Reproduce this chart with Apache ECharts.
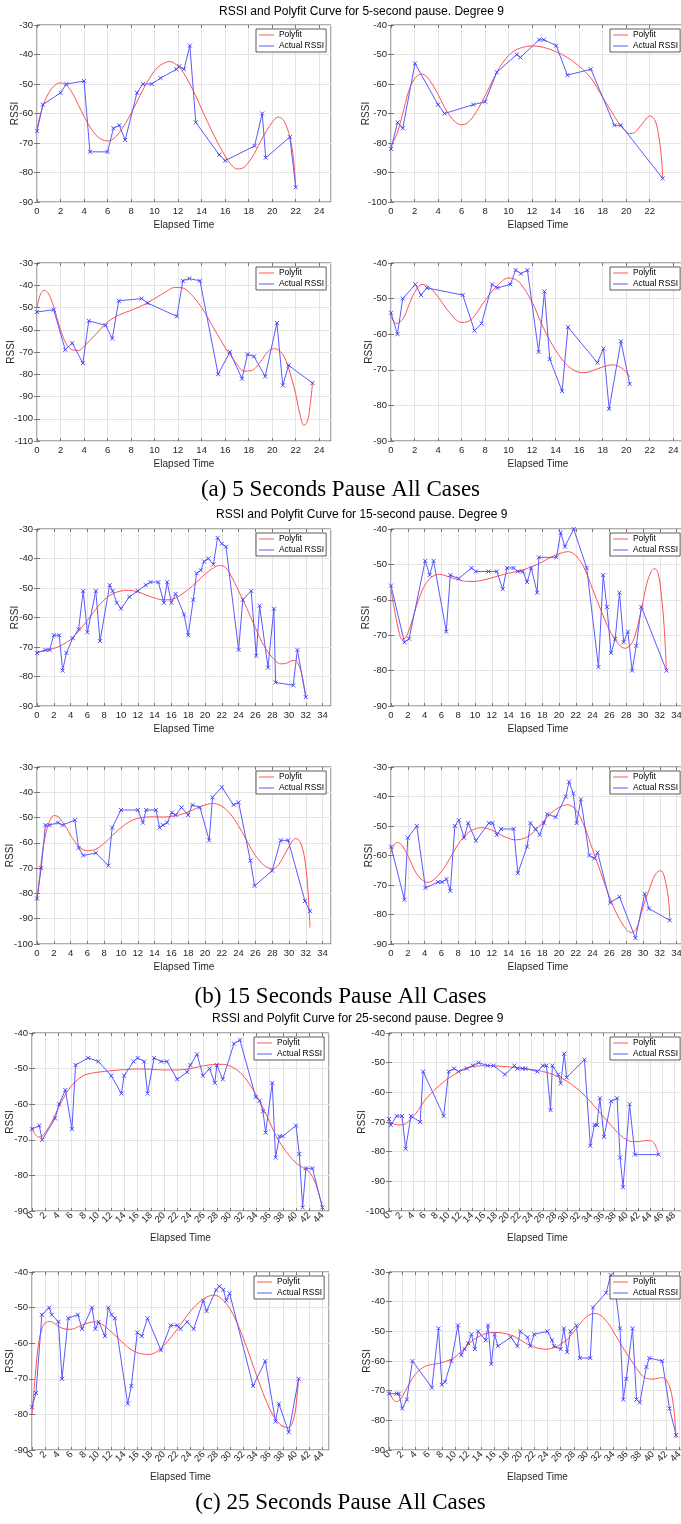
<!DOCTYPE html>
<html>
<head>
<meta charset="utf-8">
<title>RSSI and Polyfit Curves</title>
<script src="https://cdn.jsdelivr.net/npm/echarts@6/dist/echarts.min.js"></script>
<style>
  html, body { margin: 0; padding: 0; background: #fff; }
  #chart { width: 681px; height: 1524px; }
</style>
</head>
<body>
<div id="chart"></div>
<script>
// ---- Figure text ----
const groupTitles = [
  'RSSI and Polyfit Curve for 5-second pause. Degree 9',
  'RSSI and Polyfit Curve for 15-second pause. Degree 9',
  'RSSI and Polyfit Curve for 25-second pause. Degree 9'
];
const groupCaptions = [
  '(a) 5 Seconds Pause All Cases',
  '(b) 15 Seconds Pause All Cases',
  '(c) 25 Seconds Pause All Cases'
];
const seriesNames = ['Polyfit', 'Actual RSSI'];
const xAxisTitle = 'Elapsed Time';
const yAxisTitle = 'RSSI';

// ---- Tick sets for elapsed time ----
const ticksTo22 = [0, 2, 4, 6, 8, 10, 12, 14, 16, 18, 20, 22];
const ticksTo24 = [0, 2, 4, 6, 8, 10, 12, 14, 16, 18, 20, 22, 24];
const ticksTo34 = [0, 2, 4, 6, 8, 10, 12, 14, 16, 18, 20, 22, 24, 26, 28, 30, 32, 34];
const ticksTo44 = [0, 2, 4, 6, 8, 10, 12, 14, 16, 18, 20, 22, 24, 26, 28, 30, 32, 34, 36, 38, 40, 42, 44];
const ticksTo48 = [0, 2, 4, 6, 8, 10, 12, 14, 16, 18, 20, 22, 24, 26, 28, 30, 32, 34, 36, 38, 40, 42, 44, 46, 48];

// ---- 5-second pause ----
const p5c1Actual = [[0,-66],[0.5,-57],[2,-53],[2.5,-50],[4,-49],[4.5,-73],[6,-73],[6.5,-65],[7,-64],[7.5,-69],[8.5,-53],[9,-50],[9.75,-50],[10.5,-48],[11.85,-45],[12.1,-44],[12.5,-45],[13,-37],[13.5,-63],[15.5,-74],[16,-76],[18.5,-71],[19.15,-60],[19.45,-75],[21.5,-68],[22,-85]];
const p5c1Fit = [[0,-65],[0.5,-57.5],[1,-53],[1.5,-50.5],[2,-49.6],[2.5,-50.4],[3,-53],[3.5,-57],[4,-61],[4.5,-64.5],[5,-67.3],[5.5,-68.8],[6,-69.3],[6.5,-68.6],[7,-66.5],[7.5,-63.5],[8,-60],[8.5,-56],[9,-52],[9.5,-48.5],[10,-45.5],[10.5,-43.6],[11,-42.6],[11.3,-42.4],[12,-44],[12.5,-46.5],[13,-50],[13.5,-54],[14,-58.5],[15,-67],[16,-74.5],[16.5,-77.3],[17,-78.8],[17.5,-78.5],[18,-76.5],[18.5,-73.5],[19,-69.5],[19.5,-66],[20,-63],[20.5,-61.2],[21,-62.5],[21.5,-68],[21.8,-75],[22,-85]];

const p5c2Actual = [[0,-82],[0.56,-73],[1,-75],[2.04,-53],[4,-67],[4.55,-70],[7,-67],[8,-66],[9,-56],[10.7,-50],[11,-51],[12.6,-45],[13,-45],[14.05,-47],[15,-57],[17,-55],[19,-74],[19.55,-74],[23.1,-92]];
const p5c2Fit = [[0,-81],[0.5,-77],[1,-70],[1.5,-62.5],[2,-58.3],[2.6,-56.6],[3,-57.4],[3.5,-60],[4,-63.5],[4.5,-67.5],[5,-70.8],[5.5,-73],[6,-73.8],[6.5,-73.2],[7,-71],[7.5,-67.8],[8,-64],[8.5,-60],[9,-56],[9.5,-52.8],[10,-50.3],[10.5,-48.7],[11,-47.8],[12,-47.1],[13,-47.6],[14,-49],[15,-51],[16,-54],[17,-58],[18,-64.5],[19,-71],[19.5,-74],[20,-76.2],[20.3,-76.8],[20.7,-76.5],[21,-75.3],[21.5,-72.8],[22,-70.8],[22.4,-72],[22.7,-76],[23,-85],[23.1,-92]];

const p5c3Actual = [[0,-52],[1.42,-51],[2.4,-69],[3,-66],[3.9,-75],[4.4,-56],[5.84,-58],[6.4,-64],[6.95,-47],[8.9,-46],[9.4,-48],[11.9,-54],[12.4,-38],[12.95,-37],[13.86,-38],[15.4,-80],[16.4,-70],[17.43,-82],[17.9,-71],[18.45,-72],[19.4,-81],[20.4,-57],[20.9,-85],[21.4,-76],[23.43,-84]];
const p5c3Fit = [[0,-50],[0.3,-44],[0.6,-42.2],[1,-44],[1.5,-51],[2,-60],[2.5,-66.5],[3,-69],[3.5,-69.3],[4,-67.5],[5,-62],[6,-56.5],[7,-53.3],[8,-51.3],[9,-49],[10,-46],[11,-42.8],[11.7,-41],[12.3,-41.1],[13,-43.5],[14,-50],[15,-59],[16,-68],[17,-75.5],[17.6,-78.6],[18.2,-78.4],[19,-74.5],[19.6,-70],[20.1,-68.5],[20.5,-69],[21,-72],[21.5,-79],[22,-89],[22.4,-99],[22.7,-103],[23,-101],[23.2,-95],[23.43,-84]];

const p5c4Actual = [[0,-54],[0.55,-60],[1,-50],[2.07,-46],[2.55,-49],[3.05,-47],[6.1,-49],[7.1,-59],[7.7,-57],[8.6,-46],[9.05,-47],[10.15,-46],[10.6,-42],[11.05,-43],[11.6,-42],[12.55,-65],[13.05,-48],[13.5,-67],[14.55,-76],[15.05,-58],[17.55,-68],[18.07,-64],[18.55,-81],[19.55,-62],[20.3,-74]];
const p5c4Fit = [[0,-55],[0.45,-57],[1,-55.8],[1.5,-52],[2,-48.3],[2.65,-46],[3,-46.3],[3.5,-47.5],[4,-49.5],[5,-54],[6,-56.7],[6.5,-56.5],[7,-55.3],[8,-50.5],[9,-46.5],[10,-44.2],[10.5,-44.5],[11,-45.7],[12,-51],[13,-58.5],[14,-64.5],[15,-68.8],[16,-70.7],[16.5,-70.8],[17,-70.4],[18,-69.2],[18.9,-68.6],[19.5,-69.3],[20,-70.6],[20.3,-72]];

// ---- 15-second pause ----
const p15c1Actual = [[0,-72],[1,-71],[1.5,-71],[2,-66],[2.65,-66],[3.05,-78],[3.5,-72],[4.25,-67],[4.95,-64],[5.5,-51],[6,-65],[7,-51],[7.5,-68],[8.65,-49],[9,-51],[9.5,-55],[10,-57],[11,-53],[12,-51],[12.95,-49],[13.5,-48],[14.45,-48],[15.1,-55],[15.5,-48],[16,-55],[16.5,-52],[17.5,-59],[18,-66],[18.6,-54],[19,-45],[19.5,-44],[19.9,-41],[20.4,-40],[21,-42],[21.5,-33],[22,-35],[22.5,-36],[24,-71],[24.5,-54],[25.5,-51],[26.1,-73],[26.5,-56],[27.5,-77],[28.2,-57],[28.4,-82],[30.5,-83],[31,-71],[32,-87]];
const p15c1Fit = [[0,-71.8],[1,-71.2],[2,-70.5],[3,-69.3],[4,-67.5],[5,-64.5],[6,-61],[7,-57.2],[8,-54],[9,-52],[10,-51],[10.9,-50.8],[12,-51.3],[13,-52.4],[14,-53.4],[15,-54],[15.7,-54],[16.5,-53.4],[17,-52.6],[18,-50.5],[19,-48],[20,-45.3],[21,-43.2],[21.7,-42.4],[22.3,-42.7],[23,-45.3],[24,-51],[25,-57],[26,-63.5],[27,-69.5],[28,-73.5],[29,-75.7],[29.6,-75.6],[30.1,-74.9],[30.6,-74.5],[31,-75.2],[31.5,-79],[32,-87]];

const p15c2Actual = [[0,-56],[1.6,-72],[2.15,-71],[4.07,-49],[4.6,-53],[5.07,-49],[6.58,-69],[7.06,-53],[8.06,-54],[9.58,-51],[10.1,-52],[11.6,-52],[12.6,-52],[13.3,-57],[13.8,-51],[14.6,-51],[15.1,-52],[15.7,-52],[16.2,-55],[16.7,-51],[17.4,-58],[17.6,-48],[19.7,-48],[20.2,-41],[20.7,-45],[21.75,-40],[23.3,-51],[24.7,-79],[25.26,-53],[25.7,-62],[26.2,-75],[26.7,-71],[27.2,-58],[27.7,-72],[28.2,-69],[28.7,-80],[29.2,-73],[29.8,-62],[32.8,-80]];
const p15c2Fit = [[0,-57],[0.5,-64],[1,-69.5],[1.3,-71.2],[1.7,-70.8],[2,-69.5],[2.5,-66],[3,-62],[3.5,-58.6],[4,-56],[4.5,-54.3],[5,-53.3],[5.75,-52.8],[6.5,-53.2],[7,-53.6],[8,-54.3],[9,-54.8],[10,-54.8],[11,-54.4],[12,-53.8],[13,-53.1],[14,-52.5],[15,-52],[16,-51.3],[17,-50.4],[18,-49.3],[19,-48],[20,-47],[21.1,-46.4],[22,-47.5],[23,-51],[24,-57],[25,-63],[26,-68.5],[27,-72.3],[27.85,-73.7],[28.5,-72.8],[29,-70.5],[29.5,-66],[30,-60.5],[30.5,-55],[31,-52],[31.4,-51.2],[31.8,-52.5],[32.2,-59],[32.5,-67],[32.8,-80]];

const p15c3Actual = [[0,-82],[0.5,-70],[1,-53],[1.5,-53],[2.5,-52],[3.05,-53],[4.5,-51],[4.95,-62],[5.5,-65],[7,-64],[8.5,-69],[8.95,-54],[10,-47],[12,-47],[12.6,-52],[13,-47],[14.15,-47],[14.6,-54],[15,-53],[15.5,-52],[16.05,-48],[16.5,-49],[17.2,-46],[18,-49],[18.5,-45],[19.4,-46],[20.5,-59],[20.9,-42],[22,-38],[23.4,-45],[24,-44],[25.4,-67],[25.9,-77],[28,-71],[29,-59],[29.9,-59],[31.9,-83],[32.5,-87]];
const p15c3Fit = [[0,-83],[0.3,-74],[0.6,-65],[1,-57],[1.5,-51.5],[2,-49.2],[2.5,-49.6],[3,-51.5],[3.5,-54],[4,-57],[5,-61.5],[6,-63.1],[7,-62.5],[8,-60.2],[9,-57],[10,-54],[11,-51.6],[12,-50.3],[13,-49.8],[14,-49.7],[15,-49.8],[16,-49.5],[17,-48.9],[18,-47.8],[19,-46.3],[20,-45],[21,-44.4],[22,-45.5],[23,-48.5],[24,-53.3],[25,-59.3],[26,-65],[27,-68.8],[28,-70.2],[28.5,-69.6],[29,-67.5],[30,-61.5],[30.8,-58.3],[31.3,-59.5],[31.8,-65],[32.2,-76],[32.5,-93.5]];

const p15c4Actual = [[0,-57],[1.6,-75],[2,-54],[3.07,-50],[4.1,-71],[5.6,-69],[6.1,-69],[6.6,-68],[7.06,-72],[7.6,-50],[8.06,-48],[8.7,-54],[9.2,-49],[10.1,-55],[11.65,-49],[12.1,-49],[12.6,-53],[13.1,-51],[14.6,-51],[15.1,-66],[16.2,-57],[16.6,-49],[17.2,-51],[17.7,-53],[18.2,-49],[18.6,-46],[19.6,-47],[20.8,-40],[21.2,-35],[21.7,-39],[22.1,-49],[22.6,-41],[23.6,-60],[24.2,-61],[24.6,-59],[26.1,-76],[27.2,-74],[29.1,-88],[30.2,-73],[30.7,-78],[33.2,-82]];
const p15c4Fit = [[0,-59],[0.4,-56.3],[0.75,-55.6],[1.2,-56.2],[2,-60],[3,-66],[4,-68.9],[4.4,-69.1],[5,-68.4],[6,-65.5],[7,-61],[8,-56.2],[9,-52.7],[10,-51],[10.85,-50.6],[12,-51.4],[13,-52.9],[14,-54.2],[14.8,-54.7],[16,-54],[17,-52],[18,-49],[19,-45.8],[20,-43.7],[21,-42.8],[22,-44.5],[23,-50],[24,-58],[25,-66],[26,-74],[27,-80.5],[28,-85],[28.6,-86.1],[29.2,-85],[30,-77.5],[31,-69.5],[31.5,-66.3],[32.1,-65.1],[32.5,-66.8],[33,-74],[33.2,-82]];

// ---- 25-second pause ----
const p25c1Actual = [[0,-67],[1.1,-66],[1.55,-70],[3.5,-64],[4.1,-60],[5.05,-56],[6.05,-67],[6.6,-49],[8.5,-47],[10.05,-48],[12,-52],[13.55,-57],[13.95,-52],[15.4,-48],[16,-47],[17,-48],[17.5,-57],[18.5,-47],[19.55,-48],[20.45,-48],[22,-53],[23.5,-51],[24,-49],[25,-46],[25.9,-52],[26.9,-50],[27.7,-54],[28,-49],[28.9,-53],[30.6,-43],[31.5,-42],[33.9,-58],[34.5,-59],[35,-62],[35.4,-68],[36.4,-54],[36.9,-75],[37.5,-69],[38,-69],[40,-66],[40.5,-74],[41,-89],[41.5,-78],[42.5,-78],[44,-89]];
const p25c1Fit = [[0,-66.5],[0.5,-68.5],[1,-69.2],[1.5,-69],[2,-68],[3,-65],[4,-61],[5,-57.5],[6,-54.8],[7,-53],[8,-51.8],[9,-51.3],[10,-51],[12,-50.6],[14,-50.3],[16,-50.1],[18,-50.2],[20,-50.4],[22,-50.4],[24,-50],[26,-49.2],[28,-48.8],[29,-48.8],[30,-49.3],[31,-50.3],[32,-52],[33,-54.5],[34,-57.5],[35,-61],[36,-65],[37,-69],[38,-72],[39,-74.5],[40,-76.5],[41,-77.8],[42,-79],[43,-82.5],[44,-89]];

const p25c2Actual = [[0,-69],[0.3,-71],[1.3,-68],[2.2,-68],[2.8,-79],[3.7,-68],[5.25,-70],[5.75,-53],[9.2,-68],[10.05,-53],[10.95,-52],[11.7,-53],[13.1,-52],[14.1,-51],[15.1,-50],[16.6,-51],[17.6,-51],[19.5,-54],[21.1,-51],[21.6,-52],[22.5,-52],[23,-52],[25,-53],[25.9,-51],[26.5,-51],[27.2,-66],[27.5,-51],[28.5,-54],[28.9,-57],[29.5,-47],[29.9,-55],[32.9,-49],[33.9,-78],[34.6,-71],[35,-71],[35.5,-62],[36.2,-75],[37.4,-63],[38.4,-62],[38.9,-82],[39.4,-92],[40.5,-64],[41.4,-81],[45.4,-81]];
const p25c2Fit = [[0,-70],[1,-70.8],[2,-71],[3,-70.3],[4,-68.3],[5,-65.8],[6,-62.8],[7,-60.5],[8,-58.6],[9,-56.8],[10,-55.3],[11,-54],[12,-52.7],[13,-51.8],[14,-51.3],[15,-51.1],[16,-51],[18,-51.1],[20,-51.4],[22,-51.8],[24,-52.3],[26,-53],[28,-54.3],[30,-56.3],[32,-59.3],[34,-63.3],[36,-68],[38,-72.5],[39,-74.5],[40,-76],[41,-76.6],[42,-76.6],[43,-76.3],[44,-76.3],[44.6,-77],[45,-78.6],[45.4,-80.8]];

const p25c3Actual = [[0,-78],[0.6,-74],[1.5,-52],[2.6,-50],[3,-52],[4,-54],[4.55,-70],[5.5,-53],[6.95,-52],[7.6,-56],[9.1,-50],[9.6,-56],[10.1,-54],[11.05,-58],[11.55,-50],[12.05,-52],[12.55,-53],[14.5,-77],[15.05,-72],[15.95,-57],[16.65,-58],[17.5,-53],[19.55,-62],[21,-55],[22,-55],[22.5,-56],[23.5,-54],[24.5,-56],[25.95,-48],[26.45,-51],[27.9,-45],[28.4,-44],[29,-45],[29.45,-48],[29.95,-46],[33.5,-72],[35.35,-65],[36.9,-82],[37.4,-77],[38.9,-85],[40.4,-70]];
const p25c3Fit = [[0,-80],[0.5,-69],[1,-60],[1.5,-56],[2,-54.3],[2.8,-53.9],[3.5,-54.6],[4,-55.3],[5,-56],[5.9,-56.1],[7,-55.4],[8,-54.6],[9,-54.1],[9.6,-54],[10.5,-54.6],[11,-55.2],[12,-56.8],[13,-58.5],[14,-60.3],[15,-61.8],[16,-62.7],[17,-63.1],[17.7,-63.2],[18.5,-62.8],[19.5,-61.6],[20.5,-59.6],[21.5,-57.3],[22.5,-54.8],[23.5,-52.2],[24.5,-50],[25.5,-48.2],[26.5,-47],[27.6,-46.5],[28.5,-47.2],[29.5,-49],[30.5,-52],[31.5,-56.2],[32.5,-61],[33.5,-66.3],[34.5,-71.5],[35.5,-76.3],[36.5,-80.2],[37.5,-82.7],[38.3,-83.6],[38.8,-83.7],[39.3,-83],[39.8,-80],[40.1,-76],[40.4,-70]];

const p25c4Actual = [[0,-71],[1.15,-71],[1.5,-71],[2,-76],[2.7,-73],[3.55,-60],[6.5,-69],[7.5,-49],[8,-68],[8.5,-67],[9.45,-60],[10.45,-48],[10.95,-58],[11.45,-56],[12,-54],[12.5,-51],[13,-56],[13.5,-50],[14.65,-53],[15,-48],[15.5,-61],[16,-51],[16.5,-55],[18.45,-52],[19.45,-55],[19.9,-50],[21,-52],[21.4,-55],[22,-51],[24,-50],[24.7,-53],[25,-55],[26,-56],[26.5,-49],[27,-57],[27.5,-50],[28.4,-48],[28.9,-59],[30.5,-59],[30.9,-42],[32.9,-37],[33.6,-31],[34.4,-38],[35,-49],[35.5,-73],[35.95,-66],[36.9,-49],[37.5,-73],[38,-74],[39,-62],[39.45,-59],[41.4,-60],[42.5,-76],[43.5,-85]];
const p25c4Fit = [[0,-70],[0.5,-72.5],[1.1,-73.7],[1.7,-73],[2.5,-70],[3.5,-66],[4.5,-63.3],[5.7,-61.6],[7.5,-60.8],[9.2,-59.7],[10,-58.7],[11,-56.7],[12,-54.5],[12.7,-53],[13.7,-51.7],[14.7,-50.7],[15.6,-50.4],[16.5,-50.4],[17.5,-50.7],[18.5,-51.3],[19.6,-52.5],[20.8,-54.1],[21.8,-55.1],[22.8,-55.8],[23.8,-56],[24.6,-55.8],[25.3,-55.2],[26.1,-54.2],[26.9,-53],[27.6,-51.2],[28.4,-49],[29.1,-47],[29.9,-45.1],[30.6,-44.2],[31.2,-44],[31.7,-44.2],[32.2,-44.8],[32.8,-46.2],[33.4,-47.9],[34.1,-50.5],[34.9,-53.5],[35.7,-56.4],[36.5,-59.1],[37.5,-62.5],[38.1,-64.3],[38.7,-65.6],[39.3,-66],[40,-66.1],[40.6,-65.9],[41.3,-65.6],[41.7,-65.8],[42,-66.4],[42.4,-68],[42.8,-70.9],[43.2,-77],[43.5,-86]];

// ---- Panel layout (pixel boxes and axis ranges) ----
const panels = [
  { fit: p5c1Fit,  actual: p5c1Actual,  left: 37,  top: 25,   w: 294, h: 177, xMax: 25, xTicks: ticksTo24, yMin: -90,  yMax: -30, rot: 0,  yGap: 17, xGap: 18 },
  { fit: p5c2Fit,  actual: p5c2Actual,  left: 391, top: 25,   w: 294, h: 177, xMax: 25, xTicks: ticksTo22, yMin: -100, yMax: -40, rot: 0,  yGap: 20, xGap: 18 },
  { fit: p5c3Fit,  actual: p5c3Actual,  left: 37,  top: 263,  w: 294, h: 178, xMax: 25, xTicks: ticksTo24, yMin: -110, yMax: -30, rot: 0,  yGap: 21, xGap: 18 },
  { fit: p5c4Fit,  actual: p5c4Actual,  left: 391, top: 263,  w: 294, h: 178, xMax: 25, xTicks: ticksTo24, yMin: -90,  yMax: -40, rot: 0,  yGap: 17, xGap: 18 },
  { fit: p15c1Fit, actual: p15c1Actual, left: 37,  top: 529,  w: 294, h: 177, xMax: 35, xTicks: ticksTo34, yMin: -90,  yMax: -30, rot: 0,  yGap: 17, xGap: 18 },
  { fit: p15c2Fit, actual: p15c2Actual, left: 391, top: 529,  w: 294, h: 177, xMax: 35, xTicks: ticksTo34, yMin: -90,  yMax: -40, rot: 0,  yGap: 20, xGap: 18 },
  { fit: p15c3Fit, actual: p15c3Actual, left: 37,  top: 767,  w: 294, h: 177, xMax: 35, xTicks: ticksTo34, yMin: -100, yMax: -30, rot: 0,  yGap: 22, xGap: 18 },
  { fit: p15c4Fit, actual: p15c4Actual, left: 391, top: 767,  w: 294, h: 177, xMax: 35, xTicks: ticksTo34, yMin: -90,  yMax: -30, rot: 0,  yGap: 17, xGap: 18 },
  { fit: p25c1Fit, actual: p25c1Actual, left: 32,  top: 1033, w: 297, h: 178, xMax: 45, xTicks: ticksTo44, yMin: -90,  yMax: -40, rot: 45, yGap: 17, xGap: 22 },
  { fit: p25c2Fit, actual: p25c2Actual, left: 389, top: 1033, w: 297, h: 178, xMax: 50, xTicks: ticksTo48, yMin: -100, yMax: -40, rot: 45, yGap: 22, xGap: 22 },
  { fit: p25c3Fit, actual: p25c3Actual, left: 32,  top: 1272, w: 297, h: 178, xMax: 45, xTicks: ticksTo44, yMin: -90,  yMax: -40, rot: 45, yGap: 17, xGap: 22 },
  { fit: p25c4Fit, actual: p25c4Actual, left: 389, top: 1272, w: 297, h: 178, xMax: 45, xTicks: ticksTo44, yMin: -90,  yMax: -30, rot: 45, yGap: 17, xGap: 22 }
];

// ---- Styling ----
const FONT = 'Liberation Sans, Arial, Helvetica, sans-serif';
const SERIF = 'Liberation Serif, Times New Roman, serif';
const AXIS_TEXT = '#262626';
const FRAME = '#5a5a5a';
const GRIDLINE = '#e4e4e4';
const FIT_COLOR = '#ff5252';
const ACTUAL_COLOR = '#5a5aff';
const CROSS = 'path://M0,0L10,10M10,0L0,10';
const LEGEND_W = 70;

const grids = [], xAxes = [], yAxes = [], series = [], legends = [];
const xMirror = [], yMirror = [];

panels.forEach((p, i) => {
  // A blank end-stop value at the axis limit: the min/max label check then
  // drops only this blank entry instead of a real tick label.
  const stops = p.xTicks.concat([p.xMax]);
  grids.push({
    left: p.left, top: p.top, width: p.w, height: p.h,
    show: true, backgroundColor: '#fff', borderColor: FRAME, borderWidth: 1,
    containLabel: false, outerBoundsMode: 'none'
  });
  xAxes.push({
    gridIndex: i, type: 'value', min: 0, max: p.xMax,
    name: xAxisTitle, nameLocation: 'middle', nameGap: p.xGap,
    nameTextStyle: { fontFamily: FONT, fontSize: 10, color: AXIS_TEXT },
    axisLine: { show: false },
    axisTick: { show: true, inside: true, length: 3, customValues: stops, lineStyle: { color: FRAME, width: 0.8 } },
    axisLabel: {
      customValues: stops, fontFamily: FONT, fontSize: 9.5, color: AXIS_TEXT,
      margin: p.rot ? 3 : 4, rotate: p.rot, hideOverlap: false,
      showMinLabel: true, showMaxLabel: false,
      formatter: (v) => (v === p.xMax ? '' : String(v))
    },
    splitLine: { show: true, lineStyle: { color: GRIDLINE, width: 1 } }
  });
  yAxes.push({
    gridIndex: i, type: 'value', min: p.yMin, max: p.yMax, interval: 10,
    name: yAxisTitle, nameLocation: 'middle', nameGap: p.yGap, nameRotate: 90,
    nameMoveOverlap: false,
    nameTextStyle: { fontFamily: FONT, fontSize: 10, color: AXIS_TEXT },
    axisLine: { show: false },
    axisTick: { show: true, inside: true, length: 3, lineStyle: { color: FRAME, width: 0.8 } },
    axisLabel: { fontFamily: FONT, fontSize: 9.5, color: AXIS_TEXT, margin: 4, showMinLabel: true, showMaxLabel: true },
    splitLine: { show: true, lineStyle: { color: GRIDLINE, width: 1 } }
  });
  // box ticks along the top and right edges
  xMirror.push({
    gridIndex: i, type: 'value', position: 'top', min: 0, max: p.xMax,
    axisLine: { show: false }, axisLabel: { show: false }, splitLine: { show: false },
    axisTick: { show: true, inside: true, length: 3, customValues: p.xTicks, lineStyle: { color: FRAME, width: 0.8 } }
  });
  yMirror.push({
    gridIndex: i, type: 'value', position: 'right', min: p.yMin, max: p.yMax, interval: 10,
    axisLine: { show: false }, axisLabel: { show: false }, splitLine: { show: false },
    axisTick: { show: true, inside: true, length: 3, lineStyle: { color: FRAME, width: 0.8 } }
  });
  series.push({
    name: seriesNames[0], type: 'line', xAxisIndex: i, yAxisIndex: i,
    data: p.fit, smooth: 0.35, showSymbol: false, symbol: 'none',
    lineStyle: { color: FIT_COLOR, width: 1 }, itemStyle: { color: FIT_COLOR },
    silent: true, z: 2
  });
  series.push({
    name: seriesNames[1], type: 'line', xAxisIndex: i, yAxisIndex: i,
    data: p.actual, smooth: false, showSymbol: true,
    symbol: CROSS, symbolSize: 4,
    lineStyle: { color: ACTUAL_COLOR, width: 1 },
    itemStyle: { color: ACTUAL_COLOR, borderColor: '#3a3aff', borderWidth: 0.9 },
    silent: true, z: 3
  });
  legends.push({
    left: Math.min(p.left + p.w - 5, 680) - LEGEND_W, top: p.top + 4,
    orient: 'vertical', selectedMode: false,
    backgroundColor: '#fff', borderColor: '#333', borderWidth: 0.8,
    padding: [1, 2, 1, 3], itemGap: 1, itemWidth: 15, itemHeight: 1,
    textStyle: { fontFamily: FONT, fontSize: 8.4, color: '#000', lineHeight: 10 },
    data: [
      { name: seriesNames[0], icon: 'rect', itemStyle: { color: FIT_COLOR, borderWidth: 0 } },
      { name: seriesNames[1], icon: 'rect', itemStyle: { color: ACTUAL_COLOR, borderWidth: 0 } }
    ]
  });
});

const titleTops = [6, 509, 1013];
const titleLefts = [219, 216, 212];
const captionTops = [478, 985, 1491];
const titles = [];
groupTitles.forEach((t, k) => {
  titles.push({
    text: t, left: titleLefts[k], top: titleTops[k], padding: 0,
    textStyle: { fontFamily: FONT, fontSize: 12, fontWeight: 'normal', color: '#000' }
  });
});
groupCaptions.forEach((t, k) => {
  titles.push({
    text: t, left: 'center', top: captionTops[k], padding: 0,
    textStyle: { fontFamily: SERIF, fontSize: 23, fontWeight: 'normal', color: '#000' }
  });
});

const chart = echarts.init(document.getElementById('chart'), null, { renderer: 'canvas' });
chart.setOption({
  animation: false,
  backgroundColor: '#fff',
  title: titles,
  legend: legends,
  grid: grids,
  xAxis: xAxes.concat(xMirror),
  yAxis: yAxes.concat(yMirror),
  series: series
});
</script>
</body>
</html>
